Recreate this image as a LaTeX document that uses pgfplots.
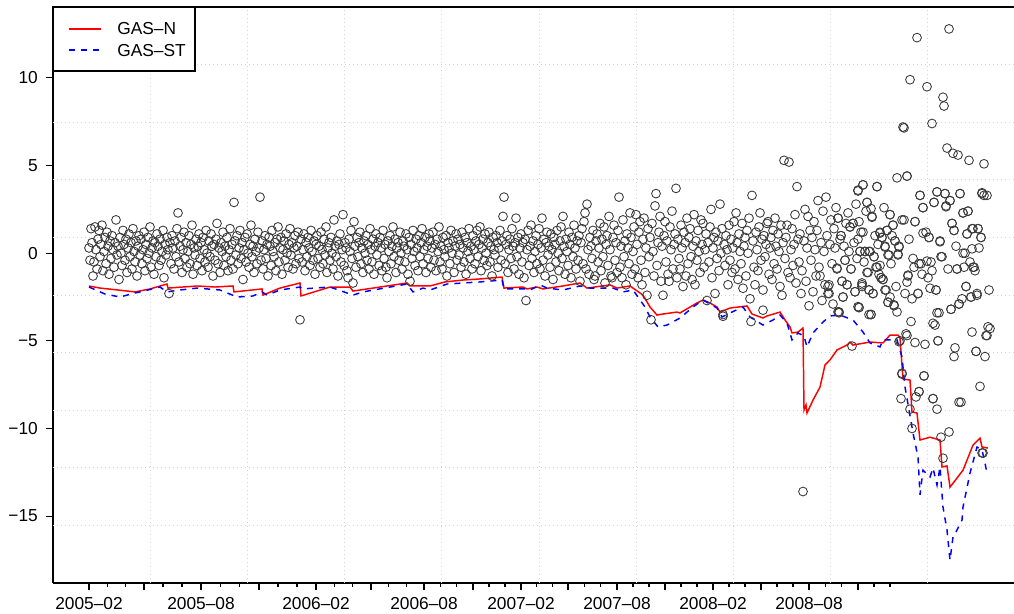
\documentclass[border=0pt]{standalone}
\usepackage{fontspec}
\setmainfont{Liberation Sans}
\usepackage{pgfplots}
\pgfplotsset{compat=1.18}
\definecolor{gridgray}{HTML}{D3D3D3}
\definecolor{ptgray}{HTML}{3A3A3A}
\newcommand{\tfont}{\fontsize{13}{15}\selectfont}
\begin{document}
\begin{tikzpicture}
\begin{axis}[
  scale only axis, width=720.75pt, height=432pt,
  xmin=53, xmax=1014, ymin=-18.82, ymax=14.05,
  axis x line*=bottom, axis y line*=left,
  axis line style={-, line width=0.8pt, black},
  tick align=outside,
  major tick length=5.6pt, minor tick length=3.2pt,
  every tick/.style={line width=0.8pt, black},
  xtick={89,144,201,259,316,371,424,473,521,568,617,665,713,761,809,858},
  xticklabels={2005–02,,2005–08,,2006–02,,2006–08,,2007–02,,2007–08,,2008–02,,2008–08,},
  minor xtick={107.3,125.7,163,182,220.3,239.7,278,297,334.3,352.7,388.7,406.3,440.3,456.7,489,505,536.7,552.3,584.3,600.7,633,649,681,697,729,745,777,793,825.3,841.7,874,890},
  ytick={-15,-10,-5,0,5,10},
  yticklabels={−15,−10,−5,0,5,10},
  ticklabel style={font=\tfont},
  xticklabel style={inner sep=0pt, anchor=north, yshift=-5.2pt},
  yticklabel style={inner sep=0pt, anchor=east, xshift=-5.6pt},
  extra x ticks={150.2,247.4,344.6,441.8,539,636.2,733.4,830.6,927.8},
  extra x tick labels={},
  extra y ticks={-15.533,-12.246,-8.959,-5.672,-2.385,0.902,4.189,7.476,10.763},
  extra y tick labels={},
  extra tick style={grid=major, major tick length=0pt},
  major grid style={draw=gridgray, line width=0.6pt, dash pattern=on 0.75pt off 2.25pt},
]
\addplot[only marks, mark=o, mark size=3.3pt, mark options={line width=0.65pt, draw=ptgray}] table {
x y
89 0.3
90 -0.4
91 1.4
92 0.6
93 -1.3
94 -0.5
95 1.5
96 0.2
97 -0.9
98 0.8
99 1.3
100 -0.2
101 0.5
102 1.6
103 -1.0
104 0.1
105 0.9
106 -0.6
107 1.2
108 0.4
109 -1.2
110 0.7
111 -0.3
112 1.0
113 0.2
114 -0.8
115 0.6
116 1.9
117 -0.1
118 0.4
119 -1.5
120 0.9
121 0.0
122 -0.7
123 1.3
124 0.5
125 -0.4
126 0.8
127 -1.1
128 0.3
129 1.1
130 -0.2
131 0.6
132 -0.9
133 1.4
134 0.1
135 -0.5
136 0.7
137 -1.3
138 0.4
139 1.0
140 -0.1
141 0.8
142 -0.6
143 0.2
144 1.2
145 -1.0
146 0.5
147 -0.3
148 0.9
149 0.0
150 1.5
151 -0.8
152 0.3
153 0.7
154 -1.2
155 0.6
156 -0.2
157 1.1
158 0.4
159 -0.7
160 0.8
161 -0.4
162 0.1
163 1.3
164 -1.4
165 0.5
166 -0.1
167 0.9
168 0.2
169 -2.3
170 0.6
171 -0.6
172 1.0
173 0.3
174 -0.9
175 0.7
176 -0.2
177 1.4
178 2.3
179 -0.5
180 0.4
181 0.9
182 -1.1
183 0.2
184 1.2
185 -0.3
186 0.6
187 -0.8
188 0.1
189 1.0
190 -0.6
191 0.5
192 1.6
193 -1.2
194 0.3
195 -0.1
196 0.8
197 -0.7
198 0.4
199 1.1
200 -0.3
201 0.6
202 -1.0
203 0.9
204 0.2
205 -0.5
206 1.3
207 0.0
208 -0.8
209 0.7
210 -0.2
211 1.1
212 0.4
213 -1.3
214 0.5
215 -0.4
216 0.8
217 1.7
218 -0.6
219 0.3
220 -1.1
221 0.6
222 0.1
223 1.2
224 -0.7
225 0.4
226 -0.2
227 0.9
228 -1.0
229 0.2
230 1.4
231 -0.4
232 0.5
233 -0.9
234 2.9
235 0.7
236 -0.1
237 1.0
238 -0.6
239 0.3
240 1.3
241 -0.3
242 0.6
243 -1.5
244 0.2
245 0.9
246 -0.5
247 1.1
248 0.0
249 -0.8
250 0.5
251 1.6
252 -0.2
253 0.4
254 -1.1
255 0.8
256 0.1
257 -0.6
258 1.2
259 0.3
260 3.2
261 -0.4
262 0.7
263 -0.9
264 0.2
265 1.0
266 -0.3
267 0.5
268 -1.3
269 0.9
270 0.4
271 -0.7
272 1.3
273 0.1
274 -0.2
275 0.6
276 -1.0
277 0.8
278 1.5
279 -0.5
280 0.3
281 0.9
282 -1.2
283 0.2
284 0.7
285 -0.4
286 1.1
287 0.0
288 -0.8
289 0.5
290 1.4
291 -0.1
292 0.6
293 -0.9
294 0.3
295 1.0
296 -0.6
297 0.4
298 1.2
299 -0.3
300 -3.8
301 0.8
302 -0.5
303 0.2
304 1.1
305 -1.0
306 0.6
307 -0.2
308 0.9
309 0.3
310 -0.7
311 1.3
312 0.1
313 -0.4
314 0.7
315 -1.2
316 0.5
317 1.0
318 -0.3
319 0.4
320 -0.8
321 1.2
322 0.2
323 -0.6
324 0.8
325 -0.1
326 1.5
327 -1.1
328 0.3
329 0.6
330 -0.4
331 0.9
332 0.0
333 -0.9
334 1.9
335 0.4
336 -0.2
337 0.7
338 -1.3
339 0.5
340 1.1
341 -0.5
342 0.2
343 2.2
344 -0.7
345 0.6
346 0.3
347 -1.0
348 -1.4
349 0.8
350 0.1
351 1.3
352 -0.3
353 -1.7
354 1.8
355 0.4
356 -0.8
357 0.9
358 -0.2
359 0.6
360 1.2
361 -0.6
362 0.3
363 -1.1
364 0.7
365 0.0
366 1.0
367 -0.4
368 0.5
369 -0.9
370 1.4
371 0.2
372 -0.5
373 0.8
374 -1.2
375 0.4
376 1.1
377 -0.1
378 0.6
379 -0.7
380 0.9
381 0.3
382 -1.0
383 1.3
384 -0.3
385 0.5
386 -0.8
387 -1.4
388 0.7
389 0.1
390 1.0
391 -0.6
392 0.4
393 1.5
394 -0.2
395 0.8
396 -1.1
397 0.3
398 0.6
399 -0.4
400 1.2
401 0.0
402 -0.9
403 0.7
404 0.4
405 -0.5
406 1.1
407 0.2
408 -1.2
409 0.9
410 -1.6
411 0.5
412 -0.3
413 1.3
414 0.1
415 -0.7
416 0.8
417 0.3
418 -1.0
419 1.0
420 -0.2
421 0.6
422 1.4
423 -0.6
424 0.2
425 0.9
426 -1.1
427 0.4
428 -0.3
429 1.1
430 0.7
431 -0.8
432 0.3
433 1.2
434 -0.4
435 0.5
436 -1.0
437 0.8
438 0.1
439 1.5
440 -0.5
441 0.4
442 -0.9
443 0.9
444 0.2
445 -0.2
446 1.0
447 -1.3
448 0.6
449 0.3
450 -0.6
451 1.3
452 0.0
453 0.7
454 -1.1
455 0.4
456 1.1
457 -0.4
458 0.8
459 -0.1
460 0.5
461 -0.8
462 1.2
463 0.3
464 -0.5
465 0.9
466 -1.2
467 0.6
468 0.1
469 1.4
470 -0.3
471 0.4
472 -0.9
473 1.0
474 0.2
475 -0.6
476 0.7
477 1.3
478 -0.2
479 0.5
480 1.5
481 -1.0
482 0.3
483 0.8
484 -0.4
485 1.1
486 0.0
487 -0.7
488 0.6
489 1.2
490 -0.5
491 0.4
492 -1.3
493 0.9
494 0.2
495 -0.1
496 1.0
497 0.6
498 -0.8
499 0.3
500 1.3
501 -0.4
502 0.7
503 2.1
504 3.2
505 -0.6
506 0.5
507 1.0
508 -1.1
509 0.2
510 0.8
511 -0.3
512 1.4
513 0.4
514 -0.9
515 0.6
516 2.0
517 -0.2
518 0.9
519 -1.2
520 0.3
521 1.1
522 -0.5
523 0.6
524 -1.4
525 0.8
526 -2.7
527 0.2
528 1.3
529 -0.7
530 0.4
531 1.6
532 -0.3
533 0.7
534 -1.1
535 0.1
536 1.0
537 -0.6
538 0.5
539 1.4
540 -0.9
541 0.3
542 2.0
543 -0.4
544 0.8
545 -1.3
546 0.6
547 1.2
548 -0.1
549 0.4
550 -0.8
551 1.1
552 0.2
553 -1.5
554 0.9
555 0.5
556 -0.5
557 1.3
558 0.0
559 -1.0
560 0.7
561 1.5
562 -0.3
563 2.1
564 0.4
565 -1.2
566 0.8
567 0.1
568 -0.7
569 1.2
570 0.5
571 -1.4
572 0.9
573 -0.2
574 1.6
575 0.3
576 -0.9
577 0.7
578 -0.4
579 1.0
580 -1.6
581 0.6
582 1.4
583 -0.6
584 1.8
585 2.3
586 -0.9
587 2.8
588 0.2
589 -1.2
590 0.9
591 0.4
592 -0.3
593 1.3
594 -1.5
595 -1.3
596 0.7
597 1.1
598 -0.5
599 0.3
600 1.7
601 -1.0
602 0.8
603 -0.2
604 1.5
605 -1.7
606 0.5
607 1.0
608 -0.7
609 2.1
610 0.2
611 -1.3
612 -1.4
613 0.9
614 1.6
615 -0.4
616 0.6
617 -1.1
618 1.3
619 3.2
620 -0.8
621 0.4
622 -1.4
623 1.9
624 -0.2
625 0.7
626 -1.8
627 1.1
628 0.3
629 -0.6
630 2.3
631 0.9
632 -1.2
633 0.1
634 1.5
635 -0.9
636 2.2
637 0.5
638 -1.4
639 1.2
640 1.8
641 -0.4
642 -1.8
643 0.8
644 2.0
645 -1.1
646 0.3
647 -2.4
648 1.4
649 -0.2
650 0.9
651 -3.8
652 1.7
653 0.1
654 -1.3
655 2.7
656 3.4
657 -0.7
658 0.6
659 1.2
660 2.1
661 -1.6
662 0.4
663 -2.4
664 1.0
665 1.8
666 -0.5
667 0.7
668 -1.2
669 -1.6
670 1.5
671 0.2
672 2.4
673 -0.9
674 0.5
675 1.1
676 3.7
677 -1.4
678 0.8
679 -0.3
680 -0.9
681 1.6
682 0.3
683 -1.9
684 1.2
685 0.6
686 -1.3
687 2.0
688 -0.6
689 0.9
690 1.4
691 -0.2
692 -1.5
693 0.4
694 2.2
695 -1.8
696 0.7
697 -0.4
698 1.3
699 0.1
700 -1.1
701 1.9
702 0.5
703 1.7
704 -0.8
705 0.2
706 1.1
707 -2.7
708 0.6
709 -0.5
710 1.5
711 2.5
712 -1.4
713 0.3
714 0.9
715 -2.3
716 1.2
717 -0.3
718 0.7
719 -1.0
720 2.8
721 0.0
722 1.4
723 -3.6
724 0.5
725 -0.7
726 1.0
727 0.2
728 -1.8
729 1.6
730 -0.4
731 0.8
732 -1.1
733 0.3
734 1.8
735 -0.9
736 2.3
737 0.6
738 -1.5
739 1.1
740 0.1
741 -0.6
742 1.7
743 -2.0
744 0.4
745 0.9
746 -1.3
747 1.3
748 0.0
749 2.0
750 -2.6
751 -3.9
752 3.3
753 0.7
754 -0.8
755 -1.8
756 1.2
757 0.2
758 -1.0
759 1.5
760 2.3
761 -0.4
762 0.8
763 -2.1
764 1.0
765 -0.2
766 0.5
767 1.7
768 1.8
769 -1.2
770 0.3
771 0.9
772 -1.5
773 1.3
774 -0.6
775 2.0
776 0.4
777 -0.9
778 1.1
779 0.1
780 -1.9
781 1.6
782 -2.4
783 0.6
784 5.3
785 -0.3
786 0.9
787 1.6
788 -1.1
789 5.2
790 -1.4
791 0.2
792 1.4
793 -0.7
794 0.5
795 2.2
796 -1.7
797 3.8
798 0.8
799 -0.5
800 1.1
801 -2.3
802 -1.0
803 -13.6
804 0.7
805 2.5
806 -1.6
807 0.3
808 2.1
809 -3.0
810 1.3
811 -0.4
812 0.9
813 -2.2
814 1.8
815 0.2
816 -1.3
817 1.3
818 3.0
819 -0.8
820 -1.3
821 0.6
822 -2.7
823 2.4
824 0.1
825 -1.8
826 3.2
827 1.0
828 -1.9
829 -2.3
830 0.5
831 1.9
832 -0.6
833 -2.9
834 1.4
835 0.3
836 2.6
837 -0.9
838 2.0
839 -3.4
840 0.8
841 1.0
842 -1.6
843 -2.5
844 0.4
845 -0.4
846 1.7
847 -1.8
848 2.3
849 0.1
850 1.5
851 -0.9
852 -5.3
853 1.7
854 0.6
855 -2.2
856 2.8
857 -0.3
858 3.6
859 -3.1
860 0.1
861 1.2
862 -1.8
863 3.9
864 -0.5
865 0.1
866 2.4
867 2.9
868 -1.1
869 -2.1
870 0.1
871 -3.5
872 2.1
873 -2.3
874 -0.2
875 1.0
876 -0.8
877 3.8
878 0.5
879 -1.2
880 1.2
881 -1.4
882 0.9
883 -1.5
884 2.6
885 0.4
886 -2.1
887 1.3
888 -2.8
889 -0.1
890 2.2
891 -0.6
892 1.0
893 1.6
894 -3.0
895 0.7
896 -1.9
897 4.3
898 -0.1
899 0.4
900 -5.0
901 -8.3
902 -6.9
903 7.2
904 1.9
905 -2.3
906 -4.6
907 4.4
908 -1.3
909 0.8
910 9.9
911 -3.9
912 -10.0
913 -0.3
914 -0.8
915 1.8
916 -8.2
917 12.3
918 -2.3
919 -7.9
920 3.3
921 -0.6
922 -1.2
923 2.6
924 -7.0
925 -5.2
926 1.2
927 9.5
928 -1.4
929 0.9
930 -2.0
931 -0.5
932 7.4
933 -8.3
934 2.9
935 -4.1
936 -2.1
937 3.5
938 -5.0
939 -3.4
940 0.7
941 -10.5
942 -0.2
943 -11.7
944 8.4
945 3.4
946 2.7
947 6.0
948 -0.9
949 12.8
950 3.0
951 -3.2
952 1.7
953 5.7
954 1.3
955 -5.4
956 0.4
957 -0.9
958 5.6
959 -2.9
960 3.4
961 -8.5
962 -2.6
963 2.3
964 -0.8
965 0.0
966 -1.9
967 1.1
968 2.4
969 5.3
970 -0.5
971 -2.5
972 -4.5
973 1.4
974 -0.8
975 -1.0
976 -5.6
977 -2.4
978 1.4
979 0.3
980 -7.6
981 0.9
982 3.4
983 -11.4
984 5.1
985 -5.9
986 -4.7
987 3.3
988 -4.2
989 -2.1
990 -4.3
943 8.9
963 0.0
972 0.25
941 -0.2
927 -0.45
919 -0.6
932 -1.0
957 -0.9
973 -0.8
936 -2.1
966 -1.9
977 -2.3
971 -2.5
959 -2.9
951 -3.2
937 -3.4
933 -4.0
987 -4.7
907 -4.7
915 -5.1
938 -5.0
954 -5.9
976 -5.6
899 -5.05
902 -6.85
924 -7.0
919 -7.9
933 -8.3
937 -8.9
959 -8.5
910 -8.9
949 -10.2
982 -11.4
858 3.55
877 3.8
863 3.9
867 2.9
871 2.55
872 2.05
920 3.3
937 3.5
945 3.4
960 3.4
982 3.45
984 3.3
923 2.6
934 2.9
950 3.0
946 2.65
968 2.4
963 2.3
890 2.2
902 1.9
893 1.6
887 1.3
880 1.15
915 1.8
952 1.7
954 1.3
967 1.1
972 1.4
978 1.4
981 0.9
923 1.15
929 0.9
940 0.65
838 2.0
853 1.7
859 1.8
863 1.2
850 1.5
841 1.0
858 0.8
882 0.9
895 0.7
899 0.35
885 0.35
888 -0.1
898 -0.05
860 0.1
865 0.1
869 0.1
874 -0.2
880 -0.7
877 -0.8
851 -0.9
837 -0.85
845 -0.4
867 -1.1
881 -1.4
883 -1.5
907 -1.65
908 -1.25
862 -1.7
862 -1.9
869 -2.1
873 -2.3
842 -1.6
847 -1.8
829 -1.8
828 -2.3
843 -2.5
855 -2.2
885 -2.1
890 -2.5
888 -2.8
894 -2.95
897 -3.35
859 -3.1
871 -3.5
918 -2.3
912 -2.6
839 -3.35
907 4.4
904 7.15
763 -3.25
838 -3.35
858 -3.05
869 -3.5
723 -3.5
};
\addplot[red, line width=1.1pt] table {
x y
89 -1.87
100 -1.99
118 -2.10
135 -2.21
150 -2.04
167 -1.76
168 -1.99
197 -1.87
215 -1.93
233 -1.87
234 -2.21
262 -2.04
263 -2.39
280 -1.99
300 -1.70
301 -2.44
330 -1.93
350 -1.93
353 -2.16
380 -1.93
407 -1.70
410 -1.87
430 -1.87
445 -1.64
463 -1.53
480 -1.47
502 -1.36
504 -1.99
523 -1.93
527 -2.04
537 -1.93
543 -2.04
563 -1.87
580 -1.70
587 -1.99
610 -1.81
617 -1.99
630 -1.87
633 -1.99
643 -2.39
650 -3.07
657 -3.53
663 -3.47
677 -3.36
680 -3.41
697 -2.84
703 -2.67
710 -2.84
717 -3.07
720 -3.36
730 -3.13
747 -3.01
752 -3.47
763 -3.70
767 -3.58
780 -3.36
785 -3.81
790 -4.21
792 -4.55
798 -4.50
803 -4.27
804 -8.95
806 -8.66
807 -9.12
813 -8.38
820 -7.64
825 -6.38
830 -6.09
837 -5.52
847 -5.24
850 -5.07
853 -5.24
870 -5.07
883 -5.12
890 -4.67
898 -4.67
900 -4.84
903 -7.18
910 -7.24
912 -9.06
917 -9.12
920 -10.66
930 -10.50
940 -10.66
942 -12.20
947 -12.14
950 -13.35
957 -12.83
963 -12.38
973 -10.95
980 -10.55
982 -11.06
988 -11.12
};
\addplot[blue, line width=1.1pt, dash pattern=on 4.5pt off 4.5pt] table {
x y
89 -1.93
105 -2.33
120 -2.50
135 -2.27
140 -2.21
160 -1.93
167 -2.21
180 -2.10
197 -1.99
220 -2.10
237 -2.50
253 -2.44
262 -2.21
267 -2.39
280 -2.10
300 -1.93
302 -2.04
330 -1.93
353 -2.39
363 -2.21
390 -1.93
407 -1.76
413 -2.21
423 -1.99
430 -2.10
447 -1.76
463 -1.70
480 -1.64
502 -1.53
504 -2.04
527 -2.04
530 -2.10
540 -1.81
547 -1.99
563 -2.10
580 -1.87
590 -1.99
613 -1.99
623 -2.21
633 -2.10
638 -2.50
645 -3.07
650 -3.64
658 -4.21
667 -4.10
680 -3.70
693 -3.07
703 -2.67
717 -3.13
722 -3.64
730 -3.41
743 -3.07
750 -3.64
763 -4.10
773 -3.81
780 -3.53
787 -3.98
792 -4.95
798 -4.55
804 -4.73
807 -5.35
813 -4.55
823 -3.93
830 -3.58
840 -3.53
853 -3.81
863 -4.50
870 -5.12
880 -5.35
883 -4.95
897 -4.95
902 -5.92
905 -7.64
912 -9.92
913 -10.26
918 -11.63
920 -13.79
923 -12.38
930 -12.77
933 -12.26
937 -13.23
940 -12.20
943 -14.49
947 -15.80
950 -17.51
953 -16.20
957 -15.80
962 -15.23
963 -14.49
970 -12.55
977 -11.06
982 -11.23
985 -11.98
987 -12.55
};
\end{axis}
\draw[line width=0.8pt] (0,432pt) -- (720.75pt,432pt);
\draw[line width=0.8pt, fill=white] (0,384pt) rectangle (106.5pt,432pt);
\draw[red, line width=1.1pt] (12pt,415.5pt) -- (36pt,415.5pt);
\draw[blue, line width=1.1pt, dash pattern=on 4.5pt off 4.5pt] (12pt,399.75pt) -- (36pt,399.75pt);
\node[anchor=base west, inner sep=0pt, font=\tfont] at (48pt,411pt) {GAS–N};
\node[anchor=base west, inner sep=0pt, font=\tfont] at (48pt,394.9pt) {GAS–ST};
\pgfresetboundingbox
\path[use as bounding box] (-39.75pt,-23.25pt) rectangle (720.75pt,437.25pt);
\end{tikzpicture}
\end{document}
